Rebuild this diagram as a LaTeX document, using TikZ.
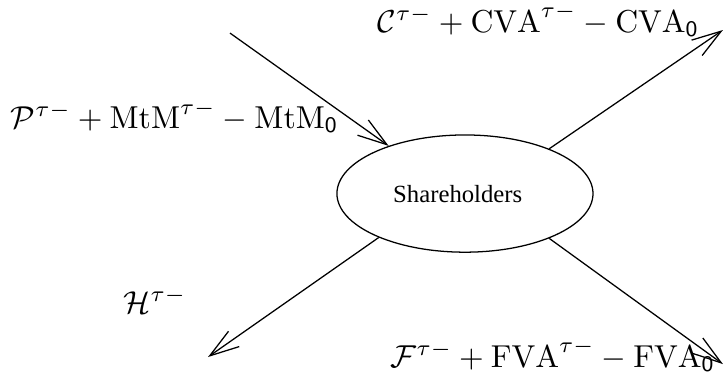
\documentclass[tikz,border=0pt]{standalone}
\usepackage{fontspec}
\newfontfamily\shfont{Liberation Serif}
\usetikzlibrary{arrows.meta,shapes.geometric}
\tikzset{
  lbl/.style={anchor=base west,inner sep=0pt},
  party/.style={draw,ellipse,inner sep=0pt,minimum width=2.84cm,minimum height=1.30cm,
    font={\shfont\fontsize{7.8}{9}\selectfont}}
}
\begin{document}
\begin{tikzpicture}[>={Straight Barb[length=9.3pt,width=5.9pt]}]
  \useasboundingbox (0,0) rectangle (8.03,4.16);
  \node[party] (share) at (5.157,2.013) {Shareholders\hspace*{0.16cm}};
  \coordinate (pin) at (2.551,3.793);
  \coordinate (cout) at (8.018,3.827);
  \coordinate (fout) at (8.018,0.122);
  \coordinate (hout) at (2.307,0.200);
  \draw [->] (pin) -- (share.148);
  \draw [->] (share.28) -- (cout);
  \draw [->] (share.-28) -- (fout);
  \draw [->] (share.-153) -- (hout);
  \node[lbl] (plab) at (0.111,2.739) {$\mathcal{P}^{\tau-}+\mathrm{MtM}^{\tau-}-\mathrm{MtM}_{\mathsf{0}}$};
  \node[lbl] (clab) at (4.181,3.804) {$\mathcal{C}^{\tau-}+\mathrm{CVA}^{\tau-}-\mathrm{CVA}_{\mathsf{0}}$};
  \node[lbl] (hlab) at (1.364,0.688) {$\mathcal{H}^{\tau-}$};
  \node[lbl] (flab) at (4.325,0.089) {$\mathcal{F}^{\tau-}+\mathrm{FVA}^{\tau-}-\mathrm{FVA}_{\mathsf{0}}$};
\end{tikzpicture}
\end{document}
